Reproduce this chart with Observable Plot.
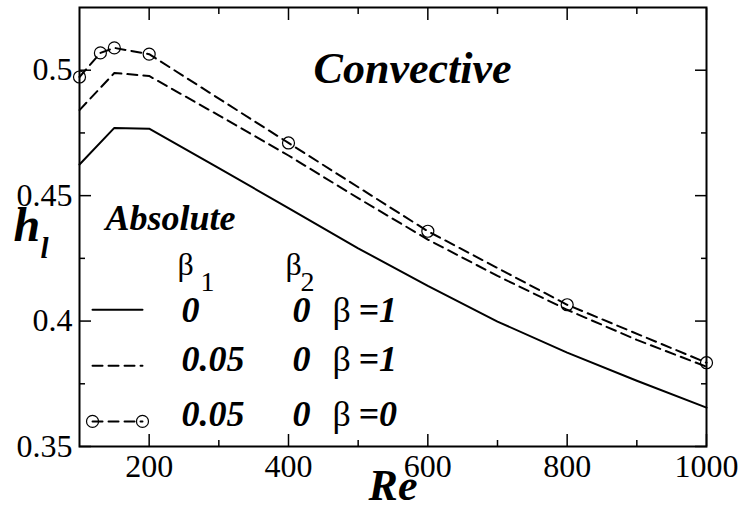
<!DOCTYPE html>
<html><head><meta charset="utf-8">
<script src="https://cdn.jsdelivr.net/npm/d3@7"></script>
<script src="https://cdn.jsdelivr.net/npm/@observablehq/plot@0.6"></script>
</head><body style="margin:0">
<div id="chart"></div>
<script>
// ---- data ----
const reSolid = [100,150,200,300,400,500,600,700,800,900,1000];
const hSolid  = [0.4624,0.4770,0.4767,0.4610,0.4450,0.4290,0.4140,0.3998,0.3874,0.3762,0.3655];
const reDash  = [100,150,200,300,400,500,600,700,800,900,1000];
const hDash   = [0.4841,0.4989,0.4977,0.4820,0.4660,0.4490,0.4325,0.4180,0.4045,0.3925,0.3818];
const reCirc  = [100,130,150,200,400,600,800,1000];
const hCirc   = [0.4973,0.5069,0.5089,0.5064,0.4710,0.4358,0.4065,0.3834];
const xTicks  = [200,400,600,800,1000];
const xMinor  = [300,500,700,900];
const yTicks  = [0.35,0.40,0.45,0.50];
const yMinor  = [0.375,0.425,0.475];
const beta1   = ["0","0.05","0.05"];
const beta2   = ["0","0","0"];
const betaVal = ["=1","=1","=0"];
const headerBeta = ["β","β"];
const headerSub  = ["1","2"];

// ---- layout (data-space anchor points for annotations) ----
const L = {
  conv: [436, 0.5006],
  abs:  [137.3, 0.4410],
  headX: [240.7, 395.7], headY: 0.4226,
  subX:  [273.7, 417.2], subY: 0.4157,
  rowY:  [0.4042, 0.3847, 0.3629],
  lineY: [0.4045, 0.3822, 0.3600],
  col1: 246.4, col2: 405.7, colB: 463.2, colV: 500.5,
  lx1: 118.7, lx2: 190.4
};
const dash = "10,6";

const solid = reSolid.map((x,i)=>({x, y:hSolid[i]}));
const dashed = reDash.map((x,i)=>({x, y:hDash[i]}));
const circ = reCirc.map((x,i)=>({x, y:hCirc[i]}));
const rows = beta1.map((b,i)=>({b1:b, b2:beta2[i], bv:betaVal[i], y:L.rowY[i], ly:L.lineY[i]}));
const legLines = rows.flatMap((r,i)=>[{x:L.lx1,y:r.ly,k:i},{x:L.lx2,y:r.ly,k:i}]);

const serif = "Liberation Serif, Times New Roman, Times, Nimbus Roman, serif";
const tickOpt = {stroke:"black", fill:"none", label:null, strokeWidth:1.5};
const T = {textAnchor:"start", fill:"black", fontFamily:serif};
const BI = {...T, fontWeight:"bold", fontStyle:"italic"};

const plot = Plot.plot({
  width: 745, height: 521,
  marginLeft: 79, marginRight: 39, marginTop: 7, marginBottom: 75,
  style: {fontFamily: serif, fontSize: "32px"},
  x: {domain: [100, 1000], axis: null},
  y: {domain: [0.35, 0.525], axis: null},
  marks: [
    // tick labels
    Plot.axisX(xTicks, {anchor:"bottom", tickSize:0, tickPadding:8, fontSize:32, fontFamily:serif, label:null, fill:"black", tickFormat: d3.format("")}),
    Plot.axisY(yTicks, {anchor:"left", tickSize:0, tickPadding:7, fontSize:32, fontFamily:serif, label:null, fill:"black", tickFormat: d3.format("")}),
    // inward ticks on all four sides
    Plot.axisX(xTicks, {...tickOpt, anchor:"bottom", tickSize:12, dy:-12}),
    Plot.axisX(xMinor, {...tickOpt, anchor:"bottom", tickSize:6, dy:-6}),
    Plot.axisX(xTicks, {...tickOpt, anchor:"top", tickSize:12, dy:12}),
    Plot.axisX(xMinor, {...tickOpt, anchor:"top", tickSize:6, dy:6}),
    Plot.axisY(yTicks, {...tickOpt, anchor:"left", tickSize:12, dx:12}),
    Plot.axisY(yMinor, {...tickOpt, anchor:"left", tickSize:6, dx:6}),
    Plot.axisY(yTicks, {...tickOpt, anchor:"right", tickSize:12, dx:-12}),
    Plot.axisY(yMinor, {...tickOpt, anchor:"right", tickSize:6, dx:-6}),
    Plot.frame({stroke:"black", strokeWidth:2}),
    // data
    Plot.line(solid, {x:"x", y:"y", stroke:"black", strokeWidth:2}),
    Plot.line(dashed, {x:"x", y:"y", stroke:"black", strokeWidth:2, strokeDasharray:dash}),
    Plot.line(circ, {x:"x", y:"y", stroke:"black", strokeWidth:2, strokeDasharray:dash}),
    Plot.dot(circ, {x:"x", y:"y", r:6, stroke:"black", strokeWidth:1.2, fill:"none"}),
    // legend samples
    Plot.line(legLines.filter(d=>d.k===0), {x:"x", y:"y", stroke:"black", strokeWidth:2}),
    Plot.line(legLines.filter(d=>d.k===1), {x:"x", y:"y", stroke:"black", strokeWidth:2, strokeDasharray:dash}),
    Plot.line(legLines.filter(d=>d.k===2), {x:"x", y:"y", stroke:"black", strokeWidth:2, strokeDasharray:dash}),
    Plot.dot(legLines.filter(d=>d.k===2), {x:"x", y:"y", r:6, stroke:"black", strokeWidth:1.2, fill:"none"}),
    // annotations
    Plot.text(["Convective"], {...BI, x:()=>L.conv[0], y:()=>L.conv[1], text:d=>d, fontSize:44}),
    Plot.text(["Absolute"], {...BI, x:()=>L.abs[0], y:()=>L.abs[1], text:d=>d, fontSize:36, ariaLabel:"stretch"}),
    Plot.text(headerBeta, {...T, x:(d,i)=>L.headX[i], y:()=>L.headY, text:d=>d, fontSize:32}),
    Plot.text(headerSub, {...T, x:(d,i)=>L.subX[i], y:()=>L.subY, text:d=>d, fontSize:28}),
    Plot.text(rows, {...BI, x:()=>L.col1, y:"y", text:"b1", fontSize:36, ariaLabel:"stretch"}),
    Plot.text(rows, {...BI, x:()=>L.col2, y:"y", text:"b2", fontSize:36}),
    Plot.text(rows, {...T, x:()=>L.colB, y:"y", text:()=>"β", fontSize:36}),
    Plot.text(rows, {...BI, x:()=>L.colV, y:"y", text:"bv", fontSize:36, ariaLabel:"stretch"}),
    // axis titles
    Plot.text(["Re"], {...BI, textAnchor:"middle", frameAnchor:"bottom", dy:53, text:d=>d, fontSize:44}),
    Plot.text(["h"], {...BI, frameAnchor:"left", y:()=>0.4379, dx:-66, text:d=>d, fontSize:48}),
    Plot.text(["l"], {...BI, frameAnchor:"left", y:()=>0.4290, dx:-39, text:d=>d, fontSize:29})
  ]
});
plot.style.background = "#fff";
plot.style.display = "block";
plot.setAttribute("font-family", serif);
document.getElementById("chart").appendChild(plot);

// horizontal stretch of legend texts to match the reference widths
const widths = {"Absolute":158, "0.05":75, "=1":42, "=0":42};
plot.querySelectorAll('g[aria-label="stretch"] text').forEach(t=>{
  const w = widths[t.textContent];
  if (w) { t.setAttribute("textLength", w); t.setAttribute("lengthAdjust", "spacingAndGlyphs"); }
});
</script></body></html>
